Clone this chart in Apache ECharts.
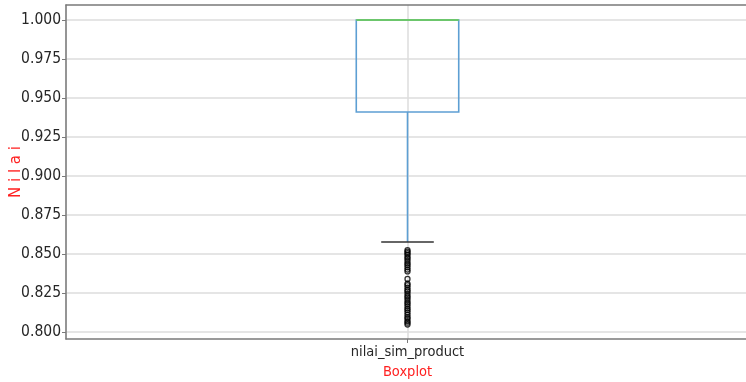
<!DOCTYPE html>
<html>
<head>
<meta charset="utf-8">
<script src="https://cdn.jsdelivr.net/npm/echarts@6/dist/echarts.min.js"></script>
<style>
html,body{margin:0;padding:0;background:#fff;}
#chart{width:746px;height:382px;}
</style>
</head>
<body>
<div id="chart"></div>
<script>
// ---- data ----
const categories = ['nilai_sim_product'];
// [lower whisker, Q1, median, Q3, upper whisker]
const boxStats = [0.8577, 0.941, 1.0, 1.0, 1.0];
const outliers = [0.8525, 0.8515, 0.8505, 0.8495, 0.848, 0.847, 0.8455, 0.844, 0.843, 0.8415,
  0.840, 0.8388, 0.834, 0.831, 0.830, 0.8285, 0.827, 0.826, 0.8245, 0.823, 0.822, 0.8205,
  0.819, 0.818, 0.8165, 0.815, 0.814, 0.8125, 0.811, 0.8095, 0.8085, 0.807, 0.806, 0.8048];
const yMin = 0.8, yMax = 1.0, yStep = 0.025;
const yTitle = 'N i l a i';
const xTitle = 'Boxplot';

// ---- chart ----
const axisCats = [''].concat(categories, ['']);
const narrow = "'Liberation Sans Narrow','DejaVu Sans Condensed',sans-serif";
const chart = echarts.init(document.getElementById('chart'));
const catIndex = 1;

chart.setOption({
  animation: false,
  backgroundColor: '#fff',
  grid: [
    {left: 66, right: -3, top: 5, bottom: 43, containLabel: false, outerBoundsMode: 'none'},
    {left: 66, right: -3, top: 20, bottom: 50, containLabel: false, outerBoundsMode: 'none'}
  ],
  xAxis: [
    {
      gridIndex: 0, type: 'category', data: axisCats, boundaryGap: false,
      axisLine: {show: true, lineStyle: {color: '#7a7a7a', width: 1.5}},
      axisTick: {show: true, length: 4, interval: (i) => i === catIndex, lineStyle: {color: '#7a7a7a'}},
      axisLabel: {show: true, margin: 6, fontFamily: narrow, fontSize: 14.5, color: '#262626'},
      splitLine: {show: true, lineStyle: {color: '#dcdcdc', width: 1.5}},
      name: xTitle, nameLocation: 'middle', nameGap: 26,
      nameTextStyle: {color: '#ff2020', fontFamily: narrow, fontSize: 14.5}
    },
    {
      gridIndex: 0, type: 'category', data: axisCats, boundaryGap: false, position: 'top',
      axisLine: {show: true, lineStyle: {color: '#7a7a7a', width: 1.5}},
      axisTick: {show: false}, axisLabel: {show: false}, splitLine: {show: false}
    },
    {
      gridIndex: 1, type: 'category', data: axisCats, boundaryGap: false, show: false
    }
  ],
  yAxis: [
    {
      gridIndex: 0, type: 'value', min: 0, max: 1,
      axisLine: {show: true, lineStyle: {color: '#7a7a7a', width: 1.5}},
      axisTick: {show: false}, axisLabel: {show: false}, splitLine: {show: false},
      name: yTitle, nameLocation: 'middle', nameGap: 42,
      nameTextStyle: {color: '#ff2020', fontFamily: 'DejaVu Sans', fontSize: 15}
    },
    {
      gridIndex: 1, type: 'value', min: yMin, max: yMax, interval: yStep,
      axisLine: {show: false},
      axisTick: {show: true, length: 4, lineStyle: {color: '#7a7a7a'}},
      axisLabel: {
        show: true, margin: 5, fontFamily: narrow, fontSize: 15.5, color: '#262626',
        formatter: v => v.toFixed(3)
      },
      splitLine: {show: true, lineStyle: {color: '#dcdcdc', width: 1.5}}
    }
  ],
  series: [
    {
      type: 'custom',
      xAxisIndex: 2, yAxisIndex: 1,
      data: [[catIndex].concat(boxStats)],
      renderItem: function (params, api) {
        const x = api.value(0);
        const band = api.size([1, 0])[0];
        const boxHalf = band * 0.15, capHalf = band * 0.077;
        const p = i => api.coord([x, api.value(i)]);
        const lo = p(1), q1 = p(2), med = p(3), q3 = p(4), hi = p(5);
        const cx = lo[0];
        const blue = {stroke: '#5d9fd3', lineWidth: 1.6, fill: null};
        return {
          type: 'group',
          children: [
            {type: 'line', shape: {x1: cx, y1: q1[1], x2: cx, y2: lo[1]}, style: blue},
            {type: 'line', shape: {x1: cx, y1: q3[1], x2: cx, y2: hi[1]}, style: blue},
            {type: 'rect', shape: {x: cx - boxHalf, y: q3[1], width: boxHalf * 2, height: q1[1] - q3[1]}, style: blue},
            {type: 'line', shape: {x1: cx - capHalf, y1: lo[1], x2: cx + capHalf, y2: lo[1]}, style: {stroke: '#333', lineWidth: 1.5}},
            {type: 'line', shape: {x1: cx - capHalf, y1: hi[1], x2: cx + capHalf, y2: hi[1]}, style: {stroke: '#333', lineWidth: 1.5}},
            {type: 'line', shape: {x1: cx - boxHalf, y1: med[1], x2: cx + boxHalf, y2: med[1]}, style: {stroke: '#6cc66c', lineWidth: 1.8}}
          ]
        };
      }
    },
    {
      type: 'scatter',
      xAxisIndex: 2, yAxisIndex: 1,
      symbol: 'circle', symbolSize: 5,
      itemStyle: {color: 'rgba(255,255,255,0)', borderColor: '#000', borderWidth: 1.3},
      data: outliers.map(v => [catIndex, v])
    }
  ]
});
</script>
</body>
</html>
